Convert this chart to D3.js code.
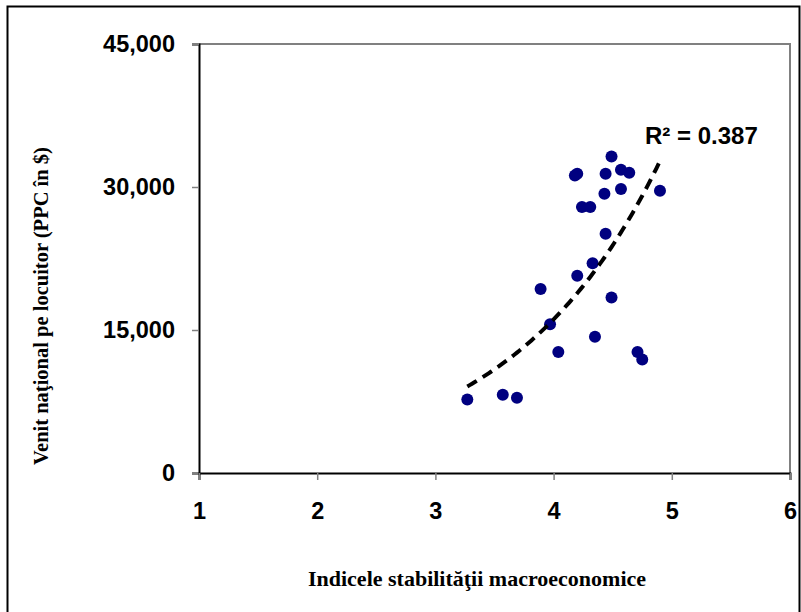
<!DOCTYPE html>
<html>
<head>
<meta charset="utf-8">
<script src="https://cdn.jsdelivr.net/npm/d3@7"></script>
<style>
  body { margin: 0; background: #fff; }
  svg { display: block; }
</style>
</head>
<body>
<svg id="chart" width="801" height="612"></svg>
<script>
// stability index (x) and income per capita PPP $ (y)
var stabilityIndex = [4.49, 4.18, 4.20, 4.44, 4.57, 4.64, 4.43, 4.57, 4.90, 4.24, 4.31, 4.44,
  4.33, 4.20, 3.89, 4.49, 3.97, 4.35, 4.04, 4.71, 4.75, 3.27, 3.57, 3.69];
var incomePPC = [33200, 31200, 31400, 31400, 31800, 31500, 29300, 29800, 29600, 27900, 27900, 25100,
  22000, 20700, 19300, 18400, 15600, 14300, 12700, 12700, 11900, 7700, 8200, 7900];

var xTicks = [1, 2, 3, 4, 5, 6];
var yTicks = [0, 15000, 30000, 45000];

// exponential trendline y = a * e^(b x)
var trendA = 692;
var trendB = 0.787;
var trendRange = [3.27, 4.9];
var trendLabel = 'R² = 0.387';

var svgWidth = 801;
var svgHeight = 612;
var margin = { left: 199, right: 11, top: 44, bottom: 139 };
var plotW = svgWidth - margin.left - margin.right;
var plotH = svgHeight - margin.top - margin.bottom;

var svg = d3.select('#chart');

// outer frame
svg.append('path')
  .attr('d', 'M7.5,620 V6.5 H799.5 V620')
  .attr('fill', 'none')
  .attr('stroke', '#000')
  .attr('stroke-width', 2);

var g = svg.append('g')
  .attr('transform', 'translate(' + margin.left + ',' + margin.top + ')');

var xScale = d3.scaleLinear().domain([1, 6]).range([0, plotW]);
var yScale = d3.scaleLinear().domain([0, 45000]).range([plotH, 0]);

// top and right border of plot area
g.append('path')
  .attr('d', 'M0,0 H' + plotW + ' V' + plotH)
  .attr('fill', 'none')
  .attr('stroke', '#808080')
  .attr('stroke-width', 2);

// y axis
var yAxis = d3.axisLeft(yScale)
  .tickValues(yTicks)
  .tickSize(7)
  .tickPadding(17)
  .tickFormat(d3.format(','));

var yG = g.append('g').call(yAxis);
yG.select('.domain').attr('stroke', '#000').attr('stroke-width', 2);
yG.selectAll('.tick line').attr('stroke', '#808080').attr('stroke-width', 1.5);
yG.selectAll('.tick text')
  .attr('font-family', 'Liberation Sans, Arial, sans-serif')
  .attr('font-weight', 'bold')
  .attr('font-size', 23.5)
  .attr('fill', '#000');

// x axis
var xAxis = d3.axisBottom(xScale)
  .tickValues(xTicks)
  .tickSize(7)
  .tickPadding(22)
  .tickFormat(d3.format('d'));

var xG = g.append('g')
  .attr('transform', 'translate(0,' + plotH + ')')
  .call(xAxis);
xG.select('.domain').attr('stroke', '#000').attr('stroke-width', 2);
xG.selectAll('.tick line').attr('stroke', '#808080').attr('stroke-width', 1.5);
xG.selectAll('.tick text')
  .attr('font-family', 'Liberation Sans, Arial, sans-serif')
  .attr('font-weight', 'bold')
  .attr('font-size', 23.5)
  .attr('fill', '#000');

// points
var points = d3.zip(stabilityIndex, incomePPC);
g.selectAll('circle')
  .data(points)
  .enter()
  .append('circle')
  .attr('cx', function (d) { return xScale(d[0]); })
  .attr('cy', function (d) { return yScale(d[1]); })
  .attr('r', 6)
  .attr('fill', '#000080');

// trendline
var trendXs = d3.range(trendRange[0], trendRange[1] + 0.001, 0.02);
var line = d3.line()
  .x(function (d) { return xScale(d); })
  .y(function (d) { return yScale(trendA * Math.exp(trendB * d)); });

g.append('path')
  .datum(trendXs)
  .attr('d', line)
  .attr('fill', 'none')
  .attr('stroke', '#000')
  .attr('stroke-width', 4)
  .attr('stroke-dasharray', '11,7');

g.append('text')
  .attr('x', 446)
  .attr('y', 100)
  .attr('font-family', 'Liberation Sans, Arial, sans-serif')
  .attr('font-weight', 'bold')
  .attr('font-size', 24)
  .text(trendLabel);

// axis titles
svg.append('text')
  .attr('x', 477)
  .attr('y', 586)
  .attr('text-anchor', 'middle')
  .attr('font-family', 'Liberation Serif, Times New Roman, serif')
  .attr('font-weight', 'bold')
  .attr('font-size', 22)
  .text('Indicele stabilităţii macroeconomice');

svg.append('text')
  .attr('transform', 'translate(48,306) rotate(-90)')
  .attr('text-anchor', 'middle')
  .attr('font-family', 'Liberation Serif, Times New Roman, serif')
  .attr('font-weight', 'bold')
  .attr('font-size', 20.5)
  .text('Venit naţional pe locuitor (PPC în $)');
</script>
</body>
</html>
